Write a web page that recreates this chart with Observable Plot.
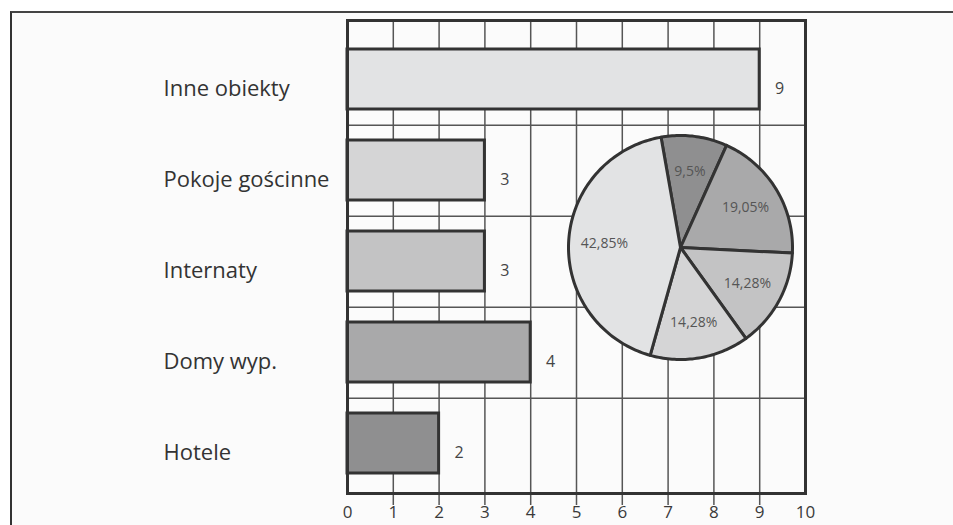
<!DOCTYPE html>
<html><head><meta charset="utf-8">
<script src="https://cdn.jsdelivr.net/npm/d3@7"></script>
<script src="https://cdn.jsdelivr.net/npm/@observablehq/plot@0.6"></script>
<style>
html,body{margin:0;padding:0;background:#fff;}
#wrap{position:relative;width:953px;height:525px;overflow:hidden;}
#box{position:absolute;left:10px;top:11px;right:0;bottom:0;border-top:2px solid #444;border-left:2px solid #333;background:#fbfbfb;}
#main{position:absolute;left:0;top:0;}
#pie{position:absolute;left:560px;top:127px;}
</style></head><body>
<div id="wrap"><div id="box"></div><div id="main"></div><div id="pie"></div></div>
<script>
// ---- data ----
const categories = ["Inne obiekty", "Pokoje gościnne", "Internaty", "Domy wyp.", "Hotele"];
const values = [9, 3, 3, 4, 2];
const xTicks = [0, 1, 2, 3, 4, 5, 6, 7, 8, 9, 10];
const pieOrder = ["Hotele", "Domy wyp.", "Internaty", "Pokoje gościnne", "Inne obiekty"];
const pieLabels = ["9,5%", "19,05%", "14,28%", "14,28%", "42,85%"];
// ---- style ----
const shades = ["#e2e3e4", "#d5d5d6", "#c3c3c4", "#a9a9aa", "#8f8f90"];

const rows = categories.map((c, i) => ({category: c, value: values[i]}));

const main = Plot.plot({
  width: 953, height: 525,
  marginLeft: 347, marginRight: 148, marginTop: 20, marginBottom: 32,
  style: {background: "transparent", fontFamily: "Open Sans", color: "#3a3a3a"},
  x: {domain: [0, 10], label: null},
  y: {domain: categories, range: [32, 490], paddingInner: 0.34, paddingOuter: 0.17, label: null},
  color: {domain: categories, range: shades},
  marks: [
    Plot.ruleX(xTicks.slice(1, -1), {stroke: "#555", strokeWidth: 1.5, insetBottom: -12}),
    Plot.ruleY(categories.slice(0, -1), {dy: 45.8, stroke: "#555", strokeWidth: 1.5}),
    Plot.barX(rows, {y: "category", x: "value", fill: "category", stroke: "#333", strokeWidth: 3}),
    Plot.text(rows, {y: "category", x: "value", text: d => String(d.value), dx: 20, dy: 9, fontSize: 16, fill: "#444"}),
    Plot.axisX({ticks: xTicks, tickSize: 0, tickPadding: 12, fontSize: 17, fill: "#3a3a3a", label: null}),
    Plot.axisY({tickSize: 0, tickPadding: 0, textAnchor: "start", dx: -184, dy: 9, fontSize: 22, fill: "#333", label: null}),
    Plot.frame({stroke: "#333", strokeWidth: 3})
  ]
});
document.getElementById("main").appendChild(main);

// ---- pie ----
const pieData = pieOrder.map((c, i) => ({category: c, value: values[categories.indexOf(c)], label: pieLabels[i]}));
const rot = -10 * Math.PI / 180;
const arcs = d3.pie().sort(null).value(d => d.value).startAngle(rot).endAngle(rot + 2 * Math.PI)(pieData);
const pts = [];
arcs.forEach(a => {
  const c = a.data.category;
  pts.push({category: c, x: 0, y: 0});
  const n = Math.max(2, Math.ceil((a.endAngle - a.startAngle) / 0.02));
  for (let k = 0; k <= n; k++) {
    const t = a.startAngle + (a.endAngle - a.startAngle) * k / n;
    pts.push({category: c, x: Math.sin(t), y: -Math.cos(t)});
  }
  pts.push({category: c, x: 0, y: 0});
});
const labelPts = arcs.map(a => {
  const m = (a.startAngle + a.endAngle) / 2;
  return {label: a.data.label, x: 0.68 * Math.sin(m), y: -0.68 * Math.cos(m)};
});
const S = 240, R = 112, K = (S / 2) / R;
const pie = Plot.plot({
  width: S, height: S, margin: 0,
  style: {background: "transparent", fontFamily: "Open Sans"},
  x: {domain: [-K, K], range: [0, S], axis: null},
  y: {domain: [-K, K], range: [0, S], axis: null},
  color: {domain: categories, range: shades},
  marks: [
    Plot.line(pts, {x: "x", y: "y", z: "category", fill: "category", stroke: "#333", strokeWidth: 3, strokeLinejoin: "round"}),
    Plot.text(labelPts, {x: "x", y: "y", text: "label", fontSize: 14, fill: "#555"})
  ]
});
document.getElementById("pie").appendChild(pie);
</script>
</body></html>
